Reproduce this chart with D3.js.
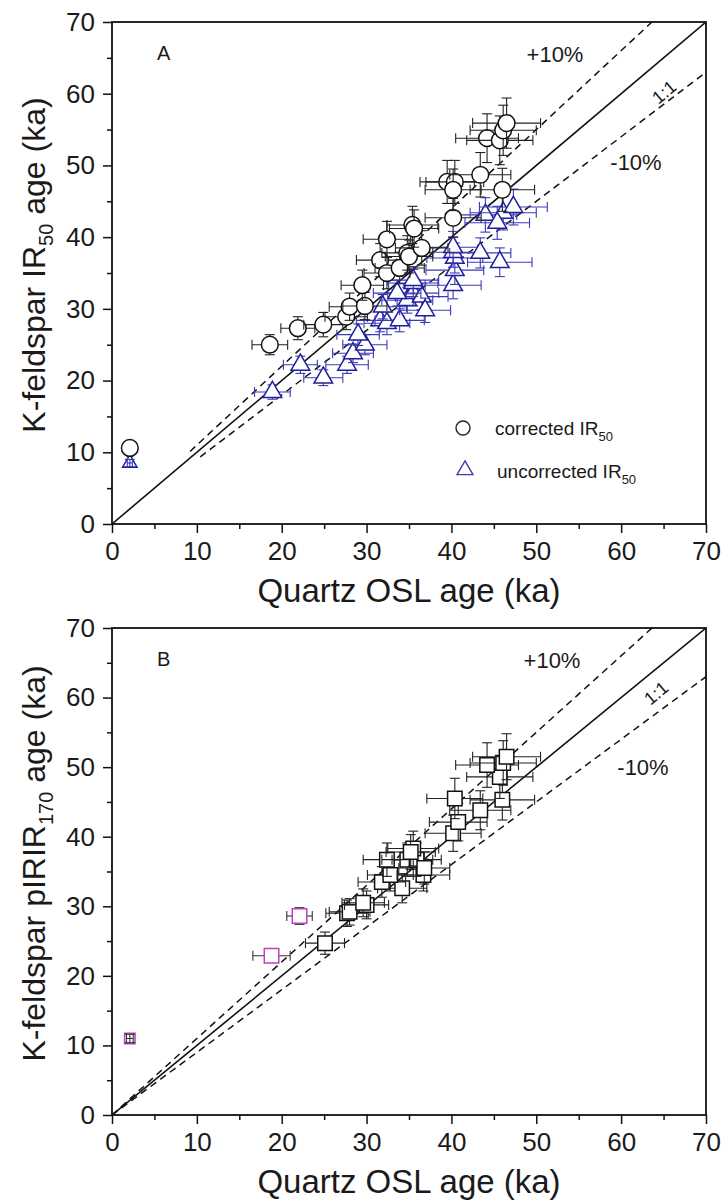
<!DOCTYPE html>
<html>
<head>
<meta charset="utf-8">
<script src="https://cdn.jsdelivr.net/npm/d3@7"></script>
<style>
  body { margin: 0; background: #fff; }
  text { font-family: "Liberation Sans", Arial, sans-serif; fill: #1a1a1a; }
</style>
</head>
<body>
<svg id="chart" width="725" height="1201"></svg>
<script>
// axis ticks
var majorTicks = [0, 10, 20, 30, 40, 50, 60, 70];
var minorTicks = [5, 15, 25, 35, 45, 55, 65];

// panel A: corrected IR50 vs quartz OSL
var corrX = [2.1, 18.6, 21.9, 24.9, 27.6, 28.0, 29.8, 29.5, 31.6, 32.4, 33.9, 34.8, 35.0, 36.5, 32.4, 35.4, 35.6, 40.2, 39.5, 40.4, 40.2, 43.4, 46.0, 44.2, 45.7, 46.1, 46.5];
var corrY = [10.6, 25.0, 27.3, 27.8, 28.9, 30.3, 30.4, 33.3, 36.8, 35.0, 35.7, 37.8, 37.3, 38.5, 39.7, 41.7, 41.2, 42.7, 47.7, 47.7, 46.6, 48.7, 46.6, 53.8, 53.5, 54.9, 55.9];
var corrXErr = [0.3, 2.1, 2.0, 2.3, 2.5, 2.4, 2.6, 2.5, 2.8, 2.7, 2.9, 3.0, 2.8, 3.1, 2.8, 3.0, 2.9, 3.3, 3.2, 3.4, 3.3, 3.6, 3.8, 3.7, 3.9, 3.9, 4.0];
var corrYErr = [0.6, 1.4, 1.6, 1.7, 1.8, 1.9, 1.9, 2.1, 2.3, 2.2, 2.2, 2.4, 2.3, 2.4, 2.5, 2.6, 2.6, 2.7, 3.0, 3.0, 2.9, 3.1, 3.0, 3.4, 3.4, 3.5, 3.5];

// panel A: uncorrected IR50
var uncX = [2.1, 18.9, 22.2, 24.9, 27.7, 28.4, 29.8, 29.0, 31.6, 32.4, 33.9, 31.9, 34.8, 35.5, 36.5, 35.5, 33.6, 35.5, 40.2, 40.4, 40.4, 40.2, 40.2, 43.4, 45.7, 44.0, 46.1, 47.3, 45.4, 36.9];
var uncY = [8.5, 18.4, 22.2, 20.4, 22.2, 23.8, 25.0, 26.4, 28.4, 28.0, 28.4, 30.3, 31.2, 32.2, 31.7, 33.6, 32.2, 34.0, 33.3, 35.4, 37.1, 37.9, 38.6, 37.8, 36.5, 43.1, 43.4, 44.2, 42.0, 29.8];
var uncXErr = [0.3, 2.1, 2.0, 2.3, 2.5, 2.4, 2.6, 2.5, 2.8, 2.7, 2.9, 2.8, 3.0, 3.0, 3.1, 2.9, 2.8, 3.0, 3.3, 3.4, 3.3, 3.3, 3.2, 3.6, 3.8, 3.7, 3.9, 4.0, 3.8, 3.0];
var uncYErr = [0.5, 1.0, 1.2, 1.1, 1.2, 1.3, 1.4, 1.5, 1.6, 1.6, 1.6, 1.7, 1.8, 1.8, 1.8, 1.9, 1.8, 1.9, 1.9, 2.0, 2.1, 2.1, 2.2, 2.1, 2.0, 2.4, 2.4, 2.5, 2.3, 1.7];

// panel B: pIRIR170 vs quartz OSL
var pirX = [25.1, 27.7, 28.0, 30.0, 29.6, 34.2, 31.8, 32.8, 36.7, 32.4, 34.8, 35.9, 35.5, 35.2, 40.2, 40.8, 43.4, 46.0, 40.4, 45.7, 44.2, 46.1, 46.5, 36.8];
var pirY = [24.7, 29.0, 29.2, 30.2, 30.5, 32.6, 33.5, 34.5, 34.5, 36.7, 36.7, 36.7, 38.3, 37.8, 40.5, 42.1, 43.8, 45.3, 45.5, 48.6, 50.3, 50.6, 51.5, 35.5];
var pirXErr = [2.3, 2.5, 2.4, 2.6, 2.5, 2.9, 2.8, 2.7, 3.1, 2.8, 3.0, 2.9, 3.0, 2.9, 3.3, 3.4, 3.6, 3.8, 3.3, 3.9, 3.7, 3.9, 4.0, 3.0];
var pirYErr = [1.6, 1.9, 1.9, 2.0, 2.0, 2.1, 2.2, 2.3, 2.3, 2.4, 2.4, 2.4, 2.5, 2.5, 2.6, 2.7, 2.8, 2.9, 2.9, 3.1, 3.2, 3.2, 3.3, 2.3];
var pirOddX = [2.1, 18.8, 22.1];
var pirOddY = [11.0, 22.9, 28.6];
var pirOddXErr = [0.4, 2.2, 1.5];
var pirOddYErr = [0.6, 0.9, 1.2];

var svg = d3.select('#chart');
var left = 112, right = 706;

function pick(arr, from, to) { return arr.slice(from, to); }

function drawPanel(opts) {
  var g = svg.append('g');
  var x = d3.scaleLinear().domain([0, 70]).range([left, right]);
  var y = d3.scaleLinear().domain([0, 70]).range([opts.bottom, opts.top]);

  var clipId = 'clip' + opts.name;
  svg.append('clipPath').attr('id', clipId)
    .append('rect')
    .attr('x', left).attr('y', opts.top)
    .attr('width', right - left).attr('height', opts.bottom - opts.top);

  // minor ticks
  g.append('g').attr('transform', 'translate(0,' + opts.bottom + ')')
    .call(d3.axisBottom(x).tickValues(minorTicks).tickSize(5).tickFormat(''))
    .call(function(s) { s.select('.domain').remove(); });
  g.append('g').attr('transform', 'translate(' + left + ',0)')
    .call(d3.axisLeft(y).tickValues(minorTicks).tickSize(5).tickFormat(''))
    .call(function(s) { s.select('.domain').remove(); });

  // major ticks + labels
  var xa = g.append('g').attr('transform', 'translate(0,' + opts.bottom + ')')
    .call(d3.axisBottom(x).tickValues(majorTicks).tickSize(9).tickPadding(9));
  var ya = g.append('g').attr('transform', 'translate(' + left + ',0)')
    .call(d3.axisLeft(y).tickValues(majorTicks).tickSize(9).tickPadding(8));
  [xa, ya].forEach(function(a) {
    a.select('.domain').remove();
    a.selectAll('text').style('font-size', '26px').attr('fill', '#1a1a1a')
      .style('font-family', '"Liberation Sans", Arial, sans-serif');
  });
  g.selectAll('.tick line').attr('stroke', '#111').attr('stroke-width', 1.5);

  // frame
  g.append('rect')
    .attr('x', left).attr('y', opts.top)
    .attr('width', right - left).attr('height', opts.bottom - opts.top)
    .attr('fill', 'none').attr('stroke', '#111').attr('stroke-width', 1.8);

  // reference lines
  var lines = g.append('g').attr('clip-path', 'url(#' + clipId + ')');
  var ln = d3.line().x(function(d) { return x(d[0]); }).y(function(d) { return y(d[1]); });
  lines.append('path').attr('d', ln([[0, 0], [70, 70]]))
    .attr('stroke', '#111').attr('stroke-width', 1.6).attr('fill', 'none');
  lines.append('path').attr('d', ln([[opts.upStart, opts.upStart * 1.1], [70 / 1.1, 70]]))
    .attr('stroke', '#111').attr('stroke-width', 1.5).attr('fill', 'none').attr('stroke-dasharray', '7,5');
  lines.append('path').attr('d', ln([[opts.lowStart, opts.lowStart * 0.9], [70, 63]]))
    .attr('stroke', '#111').attr('stroke-width', 1.5).attr('fill', 'none').attr('stroke-dasharray', '7,5');

  // points with error bars
  opts.series.forEach(function(s) {
    var pts = s.xs.map(function(v, i) { return { x: v, y: s.ys[i], xe: s.xe[i], ye: s.ye[i] }; });
    var sym = d3.symbol().type(s.type).size(s.size);
    pts.forEach(function(p) {
      var pg = g.append('g');
      var cx = x(p.x), cy = y(p.y), cap = 5;
      var segs = [
        [x(p.x - p.xe), cy, x(p.x + p.xe), cy],
        [x(p.x - p.xe), cy - cap, x(p.x - p.xe), cy + cap],
        [x(p.x + p.xe), cy - cap, x(p.x + p.xe), cy + cap],
        [cx, y(p.y - p.ye), cx, y(p.y + p.ye)],
        [cx - cap, y(p.y - p.ye), cx + cap, y(p.y - p.ye)],
        [cx - cap, y(p.y + p.ye), cx + cap, y(p.y + p.ye)]
      ];
      var bars = pg.selectAll('line').data(segs).enter().append('line')
        .attr('x1', function(d) { return d[0]; }).attr('y1', function(d) { return d[1]; })
        .attr('x2', function(d) { return d[2]; }).attr('y2', function(d) { return d[3]; })
        .attr('stroke', s.errColor).attr('stroke-width', 1.1);
      pg.append('path').attr('d', sym)
        .attr('transform', 'translate(' + cx + ',' + cy + ')')
        .attr('fill', s.fill).attr('stroke', s.stroke).attr('stroke-width', 1.5);
      if (s.barsOnTop) bars.raise();
    });
  });

  // annotations
  g.append('text').attr('x', 157).attr('y', opts.top + 38).style('font-size', '20px').text(opts.name);
  g.append('text').attr('x', opts.plusPos[0]).attr('y', opts.plusPos[1]).attr('text-anchor', 'middle')
    .style('font-size', '22px').text('+10%');
  g.append('text').attr('x', opts.minusPos[0]).attr('y', opts.minusPos[1]).attr('text-anchor', 'middle')
    .style('font-size', '22px').text('-10%');
  g.append('text').attr('transform', 'translate(' + opts.onePos[0] + ',' + opts.onePos[1] + ') rotate(-40)')
    .attr('text-anchor', 'middle').attr('dy', '0.35em').style('font-size', '18px').text('1:1');

  // axis titles
  g.append('text').attr('x', (left + right) / 2).attr('y', opts.bottom + 78)
    .attr('text-anchor', 'middle').style('font-size', '33px').text('Quartz OSL age (ka)');
  var yt = g.append('text')
    .attr('transform', 'translate(45,' + ((opts.top + opts.bottom) / 2 - 8) + ') rotate(-90)')
    .attr('text-anchor', 'middle').style('font-size', '32px');
  yt.append('tspan').text(opts.yLabel[0]);
  yt.append('tspan').attr('dy', 8).style('font-size', '20px').text(opts.yLabel[1]);
  yt.append('tspan').attr('dy', -8).text(opts.yLabel[2]);

  return g;
}

var gA = drawPanel({
  name: 'A', top: 22, bottom: 524, upStart: 9.2, lowStart: 10.4,
  plusPos: [555, 62], minusPos: [636, 170], onePos: [664, 92],
  yLabel: ['K-feldspar IR', '50', ' age (ka)'],
  series: [
    { xs: pick(uncX, 0, 1), ys: pick(uncY, 0, 1), xe: pick(uncXErr, 0, 1), ye: pick(uncYErr, 0, 1),
      type: d3.symbolTriangle, size: 90, fill: '#fff', stroke: '#1f1f9e', errColor: '#3a3ab8', barsOnTop: true },
    { xs: pick(uncX, 1), ys: pick(uncY, 1), xe: pick(uncXErr, 1), ye: pick(uncYErr, 1),
      type: d3.symbolTriangle, size: 150, fill: '#fff', stroke: '#1f1f9e', errColor: '#3a3ab8' },
    { xs: corrX, ys: corrY, xe: corrXErr, ye: corrYErr, type: d3.symbolCircle, size: 220,
      fill: '#fff', stroke: '#111', errColor: '#222' }
  ]
});

// legend A
var leg = gA.append('g');
leg.append('circle').attr('cx', 463).attr('cy', 428).attr('r', 7)
  .attr('fill', 'none').attr('stroke', '#222').attr('stroke-width', 1.4);
leg.append('path').attr('d', d3.symbol().type(d3.symbolTriangle).size(110))
  .attr('transform', 'translate(465,470)')
  .attr('fill', 'none').attr('stroke', '#4a3aa8').attr('stroke-width', 1.4);
var l1 = leg.append('text').attr('x', 495).attr('y', 435).style('font-size', '19px');
l1.append('tspan').text('corrected IR');
l1.append('tspan').attr('dy', 6).style('font-size', '13px').text('50');
var l2 = leg.append('text').attr('x', 497).attr('y', 478).style('font-size', '19px');
l2.append('tspan').text('uncorrected IR');
l2.append('tspan').attr('dy', 6).style('font-size', '13px').text('50');

drawPanel({
  name: 'B', top: 628, bottom: 1115, upStart: 0, lowStart: 0,
  plusPos: [552, 668], minusPos: [643, 775], onePos: [656, 693],
  yLabel: ['K-feldspar pIRIR', '170', ' age (ka)'],
  series: [
    { xs: pirX, ys: pirY, xe: pirXErr, ye: pirYErr, type: d3.symbolSquare, size: 210,
      fill: '#fff', stroke: '#111', errColor: '#222' },
    { xs: pick(pirOddX, 0, 1), ys: pick(pirOddY, 0, 1), xe: pick(pirOddXErr, 0, 1), ye: pick(pirOddYErr, 0, 1),
      type: d3.symbolSquare, size: 110, fill: '#fff', stroke: '#c040c0', errColor: '#333', barsOnTop: true },
    { xs: pick(pirOddX, 1), ys: pick(pirOddY, 1), xe: pick(pirOddXErr, 1), ye: pick(pirOddYErr, 1),
      type: d3.symbolSquare, size: 210, fill: '#fff', stroke: '#c040c0', errColor: '#333' }
  ]
});
</script>
</body>
</html>
